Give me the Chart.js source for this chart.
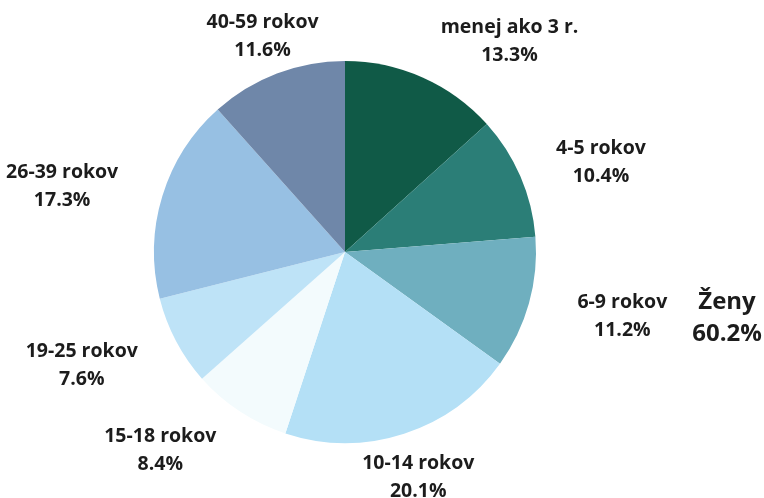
<!DOCTYPE html>
<html>
<head>
<meta charset="utf-8">
<script src="https://cdn.jsdelivr.net/npm/chart.js@4"></script>
<style>
  html, body { margin: 0; padding: 0; background: #ffffff; }
  #wrap { width: 764px; height: 498px; position: relative; }
</style>
</head>
<body>
<div id="wrap"><canvas id="c" width="764" height="498"></canvas></div>
<script>
const categories = ['menej ako 3 r.', '4-5 rokov', '6-9 rokov', '10-14 rokov', '15-18 rokov', '19-25 rokov', '26-39 rokov', '40-59 rokov'];
const values = [13.3, 10.4, 11.2, 20.1, 8.4, 7.6, 17.3, 11.6];
const sliceColors = ['#105a47', '#2b7e77', '#6fafbf', '#b4e0f6', '#f3fbfd', '#bee3f7', '#97c0e3', '#6f87a9'];
const groupName = 'Ženy';
const groupShare = '60.2%';

// label layout (distance in radii from centre, angular nudge in degrees)
const labelDist = [1.40, 1.42, 1.49, 1.24, 1.42, 1.50, 1.52, 1.21];
const labelNudge = [14, 4, -2.6, 0, 9.6, 4.6, -4, 0];

const FONT = '"Open Sans", "Noto Sans", sans-serif';

const labelPlugin = {
  id: 'sliceLabels',
  afterDatasetsDraw(chart) {
    const ctx = chart.ctx;
    const meta = chart.getDatasetMeta(0);
    ctx.save();
    ctx.fillStyle = '#1c1c1c';
    ctx.textAlign = 'center';
    ctx.textBaseline = 'middle';
    ctx.font = 'bold 19.5px ' + FONT;
    meta.data.forEach((arc, i) => {
      const p = arc.getProps(['x', 'y', 'startAngle', 'endAngle', 'outerRadius'], true);
      const mid = (p.startAngle + p.endAngle) / 2 + labelNudge[i] * Math.PI / 180;
      const r = p.outerRadius * labelDist[i];
      const x = p.x + Math.cos(mid) * r;
      const y = p.y + Math.sin(mid) * r;
      ctx.fillText(categories[i], x, y - 14);
      ctx.fillText(values[i].toFixed(1) + '%', x, y + 14);
    });
    // group caption on the right
    ctx.font = 'bold 24px ' + FONT;
    ctx.fillText(groupName, 727, 302);
    ctx.fillText(groupShare, 727, 334);
    ctx.restore();
  }
};

new Chart(document.getElementById('c'), {
  type: 'pie',
  data: {
    labels: categories,
    datasets: [{
      data: values,
      backgroundColor: sliceColors,
      borderWidth: 0
    }]
  },
  options: {
    responsive: false,
    animation: false,
    layout: { padding: { left: 0, right: 74, top: 61, bottom: 55 } },
    plugins: {
      legend: { display: false },
      tooltip: { enabled: false },
      title: { display: false }
    }
  },
  plugins: [labelPlugin]
});
</script>
</body>
</html>
